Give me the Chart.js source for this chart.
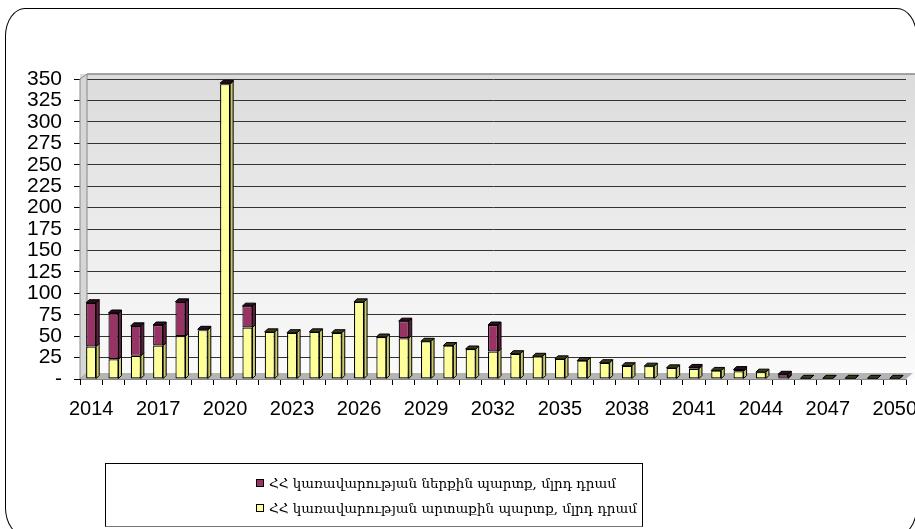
<!DOCTYPE html>
<html>
<head>
    <title>ՀՀ կառավարության պարտք</title>
    <script src="https://cdn.jsdelivr.net/npm/chart.js"></script>
    <style>
        body {
            margin: 0;
            background: #fff;
            overflow: hidden;
            font-family: "Liberation Sans", Arial, sans-serif;
        }
        .wrap {
            position: relative;
            width: 915px;
            height: 529px;
            overflow: hidden;
        }
        .frame {
            position: absolute;
            left: 5px;
            top: 8px;
            width: 912px;
            height: 528px;
            box-sizing: border-box;
            border: 1px solid #000;
            border-radius: 20px / 28px;
        }
        canvas {
            position: absolute;
            left: 0;
            top: 0;
        }
        .legend {
            position: absolute;
            left: 105px;
            top: 463px;
            width: 538px;
            height: 64px;
            box-sizing: border-box;
            border: 1px solid #000;
            border-bottom-color: #777;
            font-family: "DejaVu Serif", serif;
            font-size: 13.5px;
        }
        .legend div {
            position: absolute;
            left: 150px;
            white-space: nowrap;
            line-height: 16px;
        }
        .legend span {
            display: inline-block;
            width: 6px;
            height: 6px;
            border: 1px solid #000;
            margin-right: 5px;
            vertical-align: 1px;
        }
    </style>
</head>
<body>
    <div class="wrap">
        <div class="frame"></div>
        <canvas id="debtChart" width="940" height="529"></canvas>
        <div class="legend" id="legend"></div>
    </div>
    <script>
        const years = [];
        for (let y = 2014; y <= 2050; y++) years.push(String(y));

        // ՀՀ կառավարության արտաքին պարտք, մլրդ դրամ
        const externalDebt = [38, 23, 27, 39, 50, 57, 344, 60, 55, 54, 55, 54, 90, 49, 47.5, 44, 39, 35, 32, 29.5,
                              26.5, 23.5, 21.5, 19, 15.5, 15, 13, 12, 10, 9, 8, 1.5, 0.8, 0.8, 0.8, 0.8, 0.8];
        // ՀՀ կառավարության ներքին պարտք, մլրդ դրամ
        const internalDebt = [51, 54, 35, 24, 40, 1, 1, 25, 0, 0, 0, 0, 0, 0, 20, 0, 0, 0, 31, 0,
                              0, 0, 0, 0, 0, 0, 0, 1.5, 0, 2, 0, 4, 0, 0, 0, 0, 0];

        const internalLabel = 'ՀՀ կառավարության ներքին պարտք, մլրդ դրամ';
        const externalLabel = 'ՀՀ կառավարության արտաքին պարտք, մլրդ դրամ';

        const DEPTH = 3;

        const backdrop = {
            id: 'backdrop',
            beforeDatasetsDraw(chart) {
                const { ctx, chartArea: a } = chart;
                ctx.save();
                // left wall
                ctx.fillStyle = '#d6d6d6';
                ctx.beginPath();
                ctx.moveTo(a.left, a.top);
                ctx.lineTo(a.left + 7, a.top - 5);
                ctx.lineTo(a.left + 7, a.bottom - 6);
                ctx.lineTo(a.left, a.bottom);
                ctx.closePath();
                ctx.fill();
                ctx.strokeStyle = '#888';
                ctx.stroke();
                // floor
                ctx.fillStyle = '#b4b4b4';
                ctx.beginPath();
                ctx.moveTo(a.left, a.bottom);
                ctx.lineTo(a.left + 7, a.bottom - 6);
                ctx.lineTo(a.right + 7, a.bottom - 6);
                ctx.lineTo(a.right, a.bottom);
                ctx.closePath();
                ctx.fill();
                ctx.restore();
            },
            beforeDraw(chart) {
                const { ctx, chartArea: a } = chart;
                const g = ctx.createLinearGradient(0, a.top, 0, a.bottom);
                g.addColorStop(0, '#dcdcdc');
                g.addColorStop(1, '#fbfbfb');
                ctx.save();
                ctx.fillStyle = g;
                ctx.fillRect(a.left, a.top - 5, a.right - a.left + 10, a.bottom - a.top + 5);
                ctx.strokeStyle = '#888';
                ctx.lineWidth = 1.5;
                ctx.beginPath();
                ctx.moveTo(a.left + 7, a.top - 5);
                ctx.lineTo(a.right + 20, a.top - 5);
                ctx.stroke();
                ctx.restore();
            }
        };

        const bars3d = {
            id: 'bars3d',
            afterDatasetsDraw(chart) {
                const ctx = chart.ctx;
                ctx.save();
                ctx.lineWidth = 1;
                ctx.strokeStyle = '#000';
                chart.data.datasets.forEach((ds, i) => {
                    const meta = chart.getDatasetMeta(i);
                    meta.data.forEach((el, j) => {
                        if (!ds.data[j]) return;
                        const p = el.getProps(['x', 'y', 'base', 'width'], true);
                        const r = p.x + p.width / 2;
                        const l = p.x - p.width / 2;
                        // side face
                        ctx.fillStyle = ds.sideColor;
                        ctx.beginPath();
                        ctx.moveTo(r, p.y);
                        ctx.lineTo(r + DEPTH, p.y - DEPTH);
                        ctx.lineTo(r + DEPTH, p.base - DEPTH);
                        ctx.lineTo(r, p.base);
                        ctx.closePath();
                        ctx.fill();
                        ctx.stroke();
                        // top face on the topmost segment
                        let top = true;
                        for (let k = i + 1; k < chart.data.datasets.length; k++) {
                            if (chart.data.datasets[k].data[j]) top = false;
                        }
                        if (top) {
                            ctx.fillStyle = ds.topColor;
                            ctx.beginPath();
                            ctx.moveTo(l, p.y);
                            ctx.lineTo(l + DEPTH, p.y - DEPTH);
                            ctx.lineTo(r + DEPTH, p.y - DEPTH);
                            ctx.lineTo(r, p.y);
                            ctx.closePath();
                            ctx.fill();
                            ctx.stroke();
                        }
                    });
                });
                ctx.restore();
            }
        };

        const chart = new Chart(document.getElementById('debtChart').getContext('2d'), {
            type: 'bar',
            data: {
                labels: years,
                datasets: [
                    { label: externalLabel, data: externalDebt, backgroundColor: '#FFFF99', sideColor: '#c9c96a', topColor: '#3a3a20',
                      borderColor: '#000', borderWidth: 1.2, borderSkipped: false },
                    { label: internalLabel, data: internalDebt, backgroundColor: '#993366', sideColor: '#5e1f3f', topColor: '#2a0f1e',
                      borderColor: '#000', borderWidth: 1.2, borderSkipped: false }
                ]
            },
            options: {
                responsive: false,
                animation: false,
                layout: { padding: { left: 0, right: 34, top: 79, bottom: 110 } },
                datasets: { bar: { barPercentage: 0.45, categoryPercentage: 1 } },
                plugins: { legend: { display: false }, tooltip: { enabled: false } },
                scales: {
                    x: {
                        stacked: true,
                        afterFit: s => { s.height = 40; },
                        grid: { offset: true, drawOnChartArea: false, tickLength: 6, color: '#000' },
                        border: { color: '#888', width: 1 },
                        ticks: {
                            autoSkip: false,
                            maxRotation: 0,
                            padding: 12,
                            color: '#000',
                            font: { family: 'Liberation Sans', size: 20 },
                            callback: (v, i) => (i % 3 === 0 ? years[i] : '')
                        }
                    },
                    y: {
                        stacked: true,
                        min: 0,
                        max: 350,
                        afterFit: s => { s.width = 80; },
                        grid: { color: '#333', tickLength: 6, tickColor: '#000' },
                        border: { color: '#000', width: 1 },
                        ticks: {
                            stepSize: 25,
                            autoSkip: false,
                            padding: 12,
                            color: '#000',
                            font: { family: 'Liberation Sans', size: 21, lineHeight: 1 },
                            callback: v => (v === 0 ? '-' : v)
                        }
                    }
                }
            },
            plugins: [backdrop, bars3d]
        });

        // legend, internal first as in the original
        const legend = document.getElementById('legend');
        [chart.data.datasets[1], chart.data.datasets[0]].forEach((ds, i) => {
            const row = document.createElement('div');
            row.style.top = (i === 0 ? 11 : 36) + 'px';
            row.innerHTML = '<span style="background:' + ds.backgroundColor + '"></span>' + ds.label;
            legend.appendChild(row);
        });
    </script>
</body>
</html>
